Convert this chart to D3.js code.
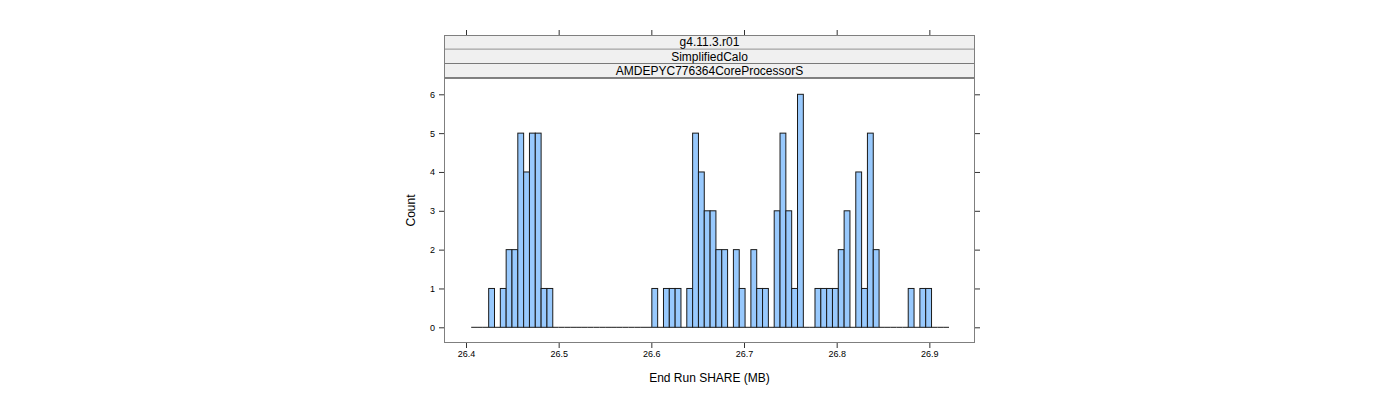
<!DOCTYPE html>
<html>
<head>
<meta charset="utf-8">
<script src="https://cdn.jsdelivr.net/npm/d3@7"></script>
<style>
  html, body { margin: 0; padding: 0; background: #fff; }
  svg { display: block; font-family: "Liberation Sans", Arial, sans-serif; }
</style>
</head>
<body>
<svg id="chart" width="1400" height="400"></svg>
<script>
// ---- data ----
const stripLabels = ["g4.11.3.r01", "SimplifiedCalo", "AMDEPYC776364CoreProcessorS"];
const breakStart = 26.4056;
const binWidth = 0.006288;
const binCounts = [
  0, 0, 0, 1, 0, 1, 2, 2, 5, 4,
  5, 5, 1, 1, 0, 0, 0, 0, 0, 0,
  0, 0, 0, 0, 0, 0, 0, 0, 0, 0,
  0, 1, 0, 1, 1, 1, 0, 1, 5, 4,
  3, 3, 2, 2, 0, 2, 1, 0, 2, 1,
  1, 0, 3, 5, 3, 1, 6, 0, 0, 1,
  1, 1, 1, 2, 3, 0, 4, 1, 5, 2,
  0, 0, 0, 0, 0, 1, 0, 1, 1, 0,
  0, 0
];
const xTicks = [26.4, 26.5, 26.6, 26.7, 26.8, 26.9];
const yTicks = [0, 1, 2, 3, 4, 5, 6];
const xTitle = "End Run SHARE (MB)";
const yTitle = "Count";

// ---- layout ----
const panel = { left: 444, right: 975, top: 78, bottom: 343 };
const stripTop = 35, stripH = 14.33;

const bins = binCounts.map((c, i) => ({
  x0: breakStart + i * binWidth,
  x1: breakStart + (i + 1) * binWidth,
  count: c
}));

const x = d3.scaleLinear().domain([26.4, 26.9]).range([466, 929.35]);
const y = d3.scaleLinear().domain([0, 6]).range([327.3, 94.3]);

const svg = d3.select("#chart");
const frameCol = "#7f7f7f";

// strips
stripLabels.forEach((lab, i) => {
  const y0 = stripTop + i * stripH;
  svg.append("rect")
    .attr("x", panel.left + 0.5).attr("y", y0)
    .attr("width", panel.right - panel.left - 1).attr("height", stripH)
    .attr("fill", "#f0f0f0").attr("stroke", "none");
  svg.append("line")
    .attr("x1", panel.left).attr("x2", panel.right)
    .attr("y1", y0 + stripH).attr("y2", y0 + stripH)
    .attr("stroke", "#1a1a1a").attr("stroke-width", 1);
  svg.append("text")
    .attr("x", (panel.left + panel.right) / 2)
    .attr("y", y0 + stripH / 2 + 4.3)
    .attr("text-anchor", "middle")
    .attr("font-size", "12px")
    .attr("fill", "#000")
    .text(lab);
});
// strip outer frame
svg.append("rect")
  .attr("x", panel.left + 0.5).attr("y", stripTop + 0.5)
  .attr("width", panel.right - panel.left - 1)
  .attr("height", panel.top - stripTop - 0.5)
  .attr("fill", "none").attr("stroke", frameCol);

// histogram bars
const g = svg.append("g");
bins.forEach(b => {
  const x0 = x(b.x0), x1 = x(b.x1);
  if (b.count > 0) {
    g.append("rect")
      .attr("x", x0).attr("y", y(b.count))
      .attr("width", x1 - x0).attr("height", y(0) - y(b.count))
      .attr("fill", "#98c9fd")
      .attr("stroke", "#1a1a1a").attr("stroke-width", 1);
  } else {
    g.append("line")
      .attr("x1", x0).attr("x2", x1)
      .attr("y1", y(0)).attr("y2", y(0))
      .attr("stroke", "#1a1a1a").attr("stroke-width", 1);
  }
});

// panel frame
svg.append("rect")
  .attr("x", panel.left + 0.5).attr("y", panel.top)
  .attr("width", panel.right - panel.left - 1)
  .attr("height", panel.bottom - panel.top - 0.5)
  .attr("fill", "none").attr("stroke", frameCol);

// axes
const bottomAxis = d3.axisBottom(x).tickValues(xTicks).tickSize(5).tickPadding(3)
  .tickFormat(d3.format(".1f"));
const topAxis = d3.axisTop(x).tickValues(xTicks).tickSize(5).tickFormat("");
const leftAxis = d3.axisLeft(y).tickValues(yTicks).tickSize(5).tickPadding(4)
  .tickFormat(d3.format("d"));
const rightAxis = d3.axisRight(y).tickValues(yTicks).tickSize(5).tickFormat("");

function styleAxis(sel) {
  sel.select(".domain").remove();
  sel.selectAll(".tick line").attr("stroke", "#333");
  sel.selectAll(".tick text").attr("font-size", "9px").attr("fill", "#000")
    .attr("font-family", "Liberation Sans, Arial, sans-serif");
}
svg.append("g").attr("transform", `translate(0,${panel.bottom})`).call(bottomAxis).call(styleAxis);
svg.append("g").attr("transform", `translate(0,${stripTop})`).call(topAxis).call(styleAxis);
svg.append("g").attr("transform", `translate(${panel.left},0)`).call(leftAxis).call(styleAxis);
svg.append("g").attr("transform", `translate(${panel.right},0)`).call(rightAxis).call(styleAxis);

// titles
svg.append("text")
  .attr("x", (panel.left + panel.right) / 2).attr("y", 382)
  .attr("text-anchor", "middle").attr("font-size", "12px").attr("fill", "#000")
  .text(xTitle);
svg.append("text")
  .attr("transform", `translate(415,${(panel.top + panel.bottom) / 2 - 0}) rotate(-90)`)
  .attr("text-anchor", "middle").attr("font-size", "12px").attr("fill", "#000")
  .text(yTitle);
</script>
</body>
</html>
